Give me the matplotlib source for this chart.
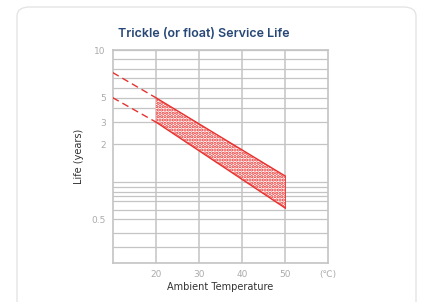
import numpy as np
import matplotlib
matplotlib.use("Agg")
import matplotlib.pyplot as plt
from matplotlib.patches import FancyBboxPatch

# grid lines of the chart (life in years, top to bottom) and where they sit
grid_vals = [10, 9, 8, 7, 6, 5, 4, 3, 2, 1, 0.9, 0.8, 0.7, 0.6, 0.55, 0.5, 0.4, 0.3, 0.2]
grid_pix  = [50, 59.3, 69, 78.3, 87.7, 97.7, 107.7, 122, 144, 181.7, 187.3, 191.7,
             195.7, 200.7, 210, 219.3, 232.7, 247.3, 263.3]

y_ticks  = [10, 5, 3, 2, 0.5]
y_labels = ["10", "5", "3", "2", "0.5"]
x_ticks  = [20, 30, 40, 50, 60]
x_labels = ["20", "30", "40", "50", "(\u2103)"]

# service life band
temps_solid = [20, 50]
upper_solid = [5.0, 1.11]
lower_solid = [3.0, 0.56]
temps_dash  = [10, 20]
upper_dash  = [7.6, 5.0]
lower_dash  = [5.0, 3.0]

RED  = "#e8312f"
GRID = "#c4c4c4"

# piecewise scale built from the printed grid
lv = np.log10(np.array(grid_vals[::-1]))
hv = 263.3 - np.array(grid_pix[::-1])

def fwd(v):
    v = np.clip(np.asarray(v, dtype=float), 1e-3, None)
    return np.interp(np.log10(v), lv, hv)

def inv(h):
    return 10 ** np.interp(np.asarray(h, dtype=float), hv, lv)

fig = plt.figure(figsize=(4.21, 3.02), dpi=100)
W, H = 421, 302

card = FancyBboxPatch((17 / W, -20 / H), 399 / W, 315 / H,
                      boxstyle="round,pad=0,rounding_size=0.03",
                      transform=fig.transFigure, facecolor="white",
                      edgecolor="#e2e2e2", linewidth=0.9, zorder=-5)
fig.patches.append(card)

ax = fig.add_axes([112.7 / W, 1 - 263.3 / H, (328.3 - 112.7) / W, (263.3 - 50) / H])
ax.set_yscale("function", functions=(fwd, inv))
ax.set_xlim(10, 60)
ax.set_ylim(0.2, 10)
ax.patch.set_alpha(0)

for v in grid_vals:
    ax.axhline(v, color=GRID, lw=0.9, zorder=1)
for t in [20, 30, 40, 50]:
    ax.axvline(t, color=GRID, lw=1.1, zorder=1)

for s in ax.spines.values():
    s.set_color(GRID)
    s.set_linewidth(1.2)

plt.rcParams["hatch.linewidth"] = 1.6
ax.fill_between(temps_solid, lower_solid, upper_solid, facecolor="white",
                edgecolor=RED, hatch=".....", linewidth=0, zorder=2)
ax.plot(temps_solid, upper_solid, color=RED, lw=1.0, zorder=3)
ax.plot(temps_solid, lower_solid, color=RED, lw=1.0, zorder=3)
ax.plot(temps_dash, upper_dash, color=RED, lw=1.0, dashes=(5, 3), zorder=3)
ax.plot(temps_dash, lower_dash, color=RED, lw=1.0, dashes=(5, 3), zorder=3)
ax.plot([50, 50], [lower_solid[1], upper_solid[1]], color=RED, lw=0.6, zorder=3)
ax.plot([20, 20], [lower_solid[0], upper_solid[0]], color=RED, lw=0.6,
        ls=(0, (1, 1.5)), alpha=0.6, zorder=3)

ax.set_yticks(y_ticks)
ax.set_yticklabels(y_labels)
ax.yaxis.set_minor_locator(matplotlib.ticker.NullLocator())
ax.set_xticks(x_ticks)
ax.set_xticklabels(x_labels)
ax.tick_params(length=0, labelsize=6.5, colors="#ababab", pad=5)

ax.set_xlabel("Ambient Temperature", fontsize=7, color="#333333", labelpad=2)
ax.set_ylabel("Life (years)", fontsize=7, color="#333333", labelpad=5)

fig.text(204 / W, 1 - 34 / H, "Trickle (or float) Service Life", ha="center",
         va="center", fontsize=9, weight="semibold", color="#274776",
         family=["Inter", "DejaVu Sans"])

fig.savefig("out.png", dpi=100)
